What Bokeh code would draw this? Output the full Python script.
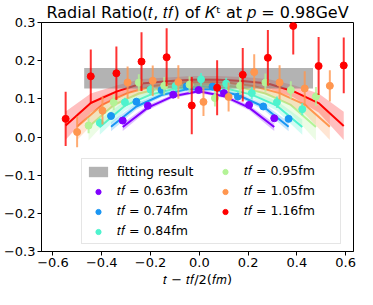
import numpy as np
from bokeh.plotting import figure
from bokeh.models import (ColumnDataSource, FixedTicker, CustomJSTickFormatter,
                          Legend, LegendItem, Range1d)
from bokeh.embed import file_html
from bokeh.resources import INLINE

# ---------------- data ----------------
tf_labels = ["0.63", "0.74", "0.84", "0.95", "1.05", "1.16"]
colors = ["#8000ff", "#1a96f3", "#4df3ce", "#b3f396", "#ff964f", "#ff0000"]

x_063 = [-0.314, -0.211, -0.107, -0.003, 0.101, 0.204, 0.307]
y_063 = [0.043, 0.082, 0.111, 0.123, 0.115, 0.084, 0.049]
e_063 = [0.004, 0.004, 0.004, 0.004, 0.004, 0.004, 0.004]
fit_063 = [0.026, 0.077, 0.107, 0.120, 0.107, 0.077, 0.026]
fite_063 = [0.010, 0.007, 0.005, 0.005, 0.005, 0.007, 0.010]

x_074 = [-0.362, -0.258, -0.155, -0.052, 0.054, 0.158, 0.262, 0.366]
y_074 = [0.055, 0.0925, 0.123, 0.1325, 0.132, 0.106, 0.080, 0.0475]
e_074 = [0.008, 0.008, 0.008, 0.008, 0.009, 0.008, 0.008, 0.008]
fit_074 = [0.027, 0.080, 0.110, 0.125, 0.125, 0.110, 0.080, 0.027]
fite_074 = [0.012, 0.008, 0.006, 0.005, 0.005, 0.006, 0.008, 0.012]

x_084 = [-0.408, -0.305, -0.200, -0.097, 0.007, 0.110, 0.215, 0.318, 0.422]
y_084 = [0.037, 0.091, 0.124, 0.134, 0.151, 0.140, 0.115, 0.091, 0.073]
e_084 = [0.012, 0.012, 0.013, 0.014, 0.017, 0.015, 0.016, 0.015, 0.016]
fit_084 = [0.026, 0.082, 0.111, 0.127, 0.133, 0.127, 0.111, 0.082, 0.026]
fite_084 = [0.020, 0.013, 0.009, 0.007, 0.006, 0.007, 0.009, 0.013, 0.020]

x_095 = [-0.454, -0.351, -0.248, -0.144, -0.040, 0.064, 0.167, 0.271, 0.375, 0.478]
y_095 = [0.030, 0.091, 0.1425, 0.134, 0.137, 0.102, 0.134, 0.1425, 0.123, 0.106]
e_095 = [0.020, 0.020, 0.022, 0.023, 0.022, 0.022, 0.024, 0.024, 0.023, 0.025]
fit_095 = [0.026, 0.084, 0.114, 0.130, 0.138, 0.138, 0.130, 0.114, 0.084, 0.026]
fite_095 = [0.035, 0.022, 0.015, 0.011, 0.009, 0.009, 0.011, 0.015, 0.022, 0.035]

x_105 = [-0.501, -0.397, -0.294, -0.191, -0.086, 0.017, 0.120, 0.225, 0.329, 0.432, 0.535]
y_105 = [0.013, 0.069, 0.143, 0.1475, 0.144, 0.092, 0.105, 0.170, 0.143, 0.127, 0.134]
e_105 = [0.040, 0.036, 0.042, 0.040, 0.044, 0.037, 0.038, 0.047, 0.045, 0.045, 0.041]
fit_105 = [0.027, 0.085, 0.115, 0.133, 0.142, 0.145, 0.142, 0.133, 0.115, 0.085, 0.027]
fite_105 = [0.035, 0.024, 0.016, 0.012, 0.010, 0.010, 0.010, 0.012, 0.016, 0.024, 0.035]

x_116 = [-0.548, -0.445, -0.340, -0.237, -0.134, -0.031, 0.073, 0.178, 0.281, 0.385, 0.489, 0.592]
y_116 = [0.0475, 0.159, 0.167, 0.1975, 0.209, 0.0825, 0.129, 0.163, 0.2075, 0.291, 0.186, 0.1875]
e_116 = [0.071, 0.070, 0.070, 0.077, 0.076, 0.075, 0.072, 0.070, 0.073, 0.075, 0.076, 0.073]
fit_116 = [0.030, 0.089, 0.119, 0.140, 0.146, 0.150, 0.150, 0.147, 0.140, 0.120, 0.089, 0.029]
fite_116 = [0.037, 0.025, 0.016, 0.012, 0.010, 0.010, 0.010, 0.010, 0.012, 0.016, 0.025, 0.037]

fit_result_x = [-0.472, 0.466]
fit_result_mean = 0.154
fit_result_err = 0.027

x_ticks = [-0.6, -0.4, -0.2, 0.0, 0.2, 0.4, 0.6]
y_ticks = [-0.3, -0.2, -0.1, 0.0, 0.1, 0.2, 0.3]

series = [
    (x_063, y_063, e_063, fit_063, fite_063),
    (x_074, y_074, e_074, fit_074, fite_074),
    (x_084, y_084, e_084, fit_084, fite_084),
    (x_095, y_095, e_095, fit_095, fite_095),
    (x_105, y_105, e_105, fit_105, fite_105),
    (x_116, y_116, e_116, fit_116, fite_116),
]

FONT = "DejaVu Sans"

p = figure(width=357, height=289, output_backend="svg", toolbar_location=None,
           x_range=Range1d(-0.647, 0.632), y_range=Range1d(-0.3, 0.3),
           min_border_left=38, min_border_right=4, min_border_top=18,
           min_border_bottom=38,
           title="Radial Ratio(\U0001D461, \U0001D461\U0001D453) of \U0001D43E\u1D57 at \U0001D45D = 0.98GeV")
p.title.text_font = FONT
p.title.text_font_size = "16px"
p.title.text_font_style = "normal"
p.title.text_color = "black"
p.title.align = "center"
p.title.standoff = 1
p.grid.visible = False
p.outline_line_color = "black"
p.outline_line_width = 1
p.outline_line_alpha = 1
p.background_fill_color = "white"
p.border_fill_color = "white"

sources = []
for (xs, ys, es, fs, fes) in series:
    xs = np.array(xs); ys = np.array(ys); es = np.array(es)
    fs = np.array(fs); fes = np.array(fes)
    sources.append(ColumnDataSource(dict(x=xs, y=ys, lo=ys - es, hi=ys + es,
                                         fit=fs, flo=fs - fes, fhi=fs + fes)))

# bands and fit curves
for src, c in zip(sources, colors):
    p.varea(x="x", y1="flo", y2="fhi", source=src, fill_color=c, fill_alpha=0.25)
    p.line(x="x", y="fit", source=src, line_color=c, line_width=2)

# fitting result band
grey = p.varea(x=fit_result_x,
               y1=[fit_result_mean - fit_result_err] * 2,
               y2=[fit_result_mean + fit_result_err] * 2,
               fill_color="#808080", fill_alpha=0.6)

# data points with error bars
scatters = []
for src, c in zip(sources, colors):
    p.segment(x0="x", y0="lo", x1="x", y1="hi", source=src,
              line_color=c, line_width=2, line_alpha=0.8)
    s = p.scatter(x="x", y="y", source=src, size=7, fill_color=c, line_color=c)
    scatters.append(s)

# axes
for ax in (p.xaxis[0], p.yaxis[0]):
    ax.axis_line_color = "black"
    ax.major_tick_line_color = "black"
    ax.major_tick_out = 4
    ax.major_tick_in = 0
    ax.minor_tick_line_color = None
    ax.major_label_text_font = FONT
    ax.major_label_text_font_size = "13px"
    ax.major_label_text_color = "black"
    ax.major_label_standoff = 2
    ax.formatter = CustomJSTickFormatter(code="""
        if (Math.abs(tick) < 1e-9) { return '0.0'; }
        return (tick < 0 ? '\u2212' : '') + Math.abs(tick).toFixed(1);
    """)
p.xaxis.ticker = FixedTicker(ticks=x_ticks)
p.yaxis.ticker = FixedTicker(ticks=y_ticks)
p.xaxis.axis_label = "\U0001D461 \u2212 \U0001D461\U0001D453/2(\U0001D453\U0001D45A)"
p.xaxis.axis_label_text_font = FONT
p.xaxis.axis_label_text_font_size = "13px"
p.xaxis.axis_label_text_font_style = "normal"
p.xaxis.axis_label_text_color = "black"
p.xaxis.axis_label_standoff = 2

# legend
items = [LegendItem(label="fitting result", renderers=[grey])]
for lab, s in zip(tf_labels, scatters):
    items.append(LegendItem(label="\U0001D461\U0001D453 = %sfm" % lab, renderers=[s]))
legend = Legend(items=items, location=(40, 7), orientation="vertical", nrows=4,
                margin=0, padding=4, spacing=4, glyph_width=24, glyph_height=13,
                label_height=13, label_width=92, label_standoff=7,
                label_text_font=FONT, label_text_font_size="12.5px",
                label_text_color="black",
                background_fill_color="white", background_fill_alpha=0.8,
                border_line_color="#cccccc", border_line_width=1,
                inactive_fill_alpha=0)
p.add_layout(legend, "center")

open("out.html", "w").write(file_html(p, INLINE))
